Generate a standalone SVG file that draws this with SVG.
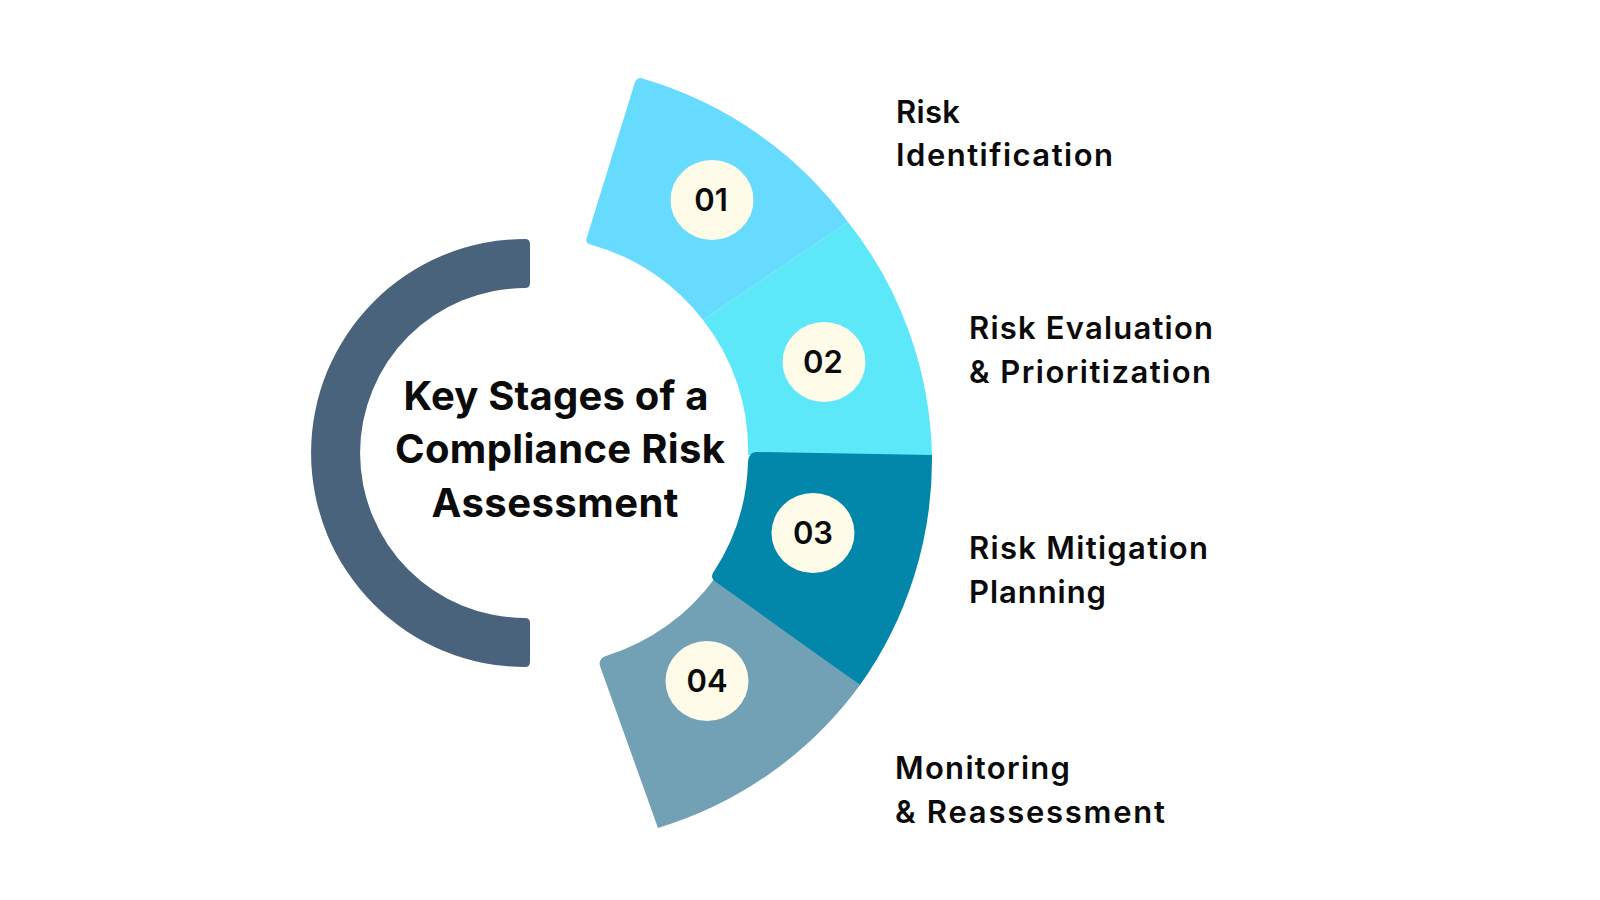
<svg xmlns="http://www.w3.org/2000/svg" width="1600" height="900" viewBox="0 0 1600 900">
<style>
.title{font-family:Inter,"Open Sans","Liberation Sans",sans-serif;font-weight:700;font-size:40px;fill:#0b0b0b;text-anchor:middle}
.label{font-family:Inter,"Open Sans","Liberation Sans",sans-serif;font-weight:600;font-size:31px;fill:#0b0b0b}
.num{font-family:Inter,"Open Sans","Liberation Sans",sans-serif;font-weight:600;font-size:31px;fill:#0b0b0b;text-anchor:middle}
.badge{fill:#fefbe9}
</style>
<rect width="1600" height="900" fill="#ffffff"/>
<g id="ring">
<path d="M530,244 Q530,239 525,239 A214,214 0 0 0 525,667 Q530,667 530,662 L530,623 Q530,618 525,618 A165,165 0 0 1 525,288 Q530,288 530,283 Z" fill="#49637c"/>
</g>
<g id="title">
<text class="title" x="556" y="410" textLength="305">Key Stages of a</text>
<text class="title" x="560" y="463" textLength="330">Compliance Risk</text>
<text class="title" x="555" y="517" textLength="247">Assessment</text>
</g>
<g id="stage1">
<path d="M592,245 Q584,244 587,237 L635,82 Q638,76 644,79 A389,389 0 0 1 848,222 L703,320 A212,212 0 0 0 592,245 Z" fill="#66dbfd"/>
<ellipse class="badge" cx="712" cy="200" rx="41.5" ry="40"/>
<text class="num" x="711" y="211">01</text>
<text class="label" x="896" y="123" textLength="64">Risk</text>
<text class="label" x="896" y="166" textLength="217">Identification</text>
</g>
<g id="stage2">
<path d="M848,222 A389,389 0 0 1 932,455 L748,455 A210,210 0 0 0 703,320 Z" fill="#5de8f9"/>
<ellipse class="badge" cx="824" cy="362" rx="41.5" ry="40"/>
<text class="num" x="823" y="373">02</text>
<text class="label" x="969" y="339" textLength="244">Risk Evaluation</text>
<text class="label" x="969" y="383" textLength="242">&amp; Prioritization</text>
</g>
<g id="stage4">
<path d="M860,685 A389,389 0 0 1 658,828 L600,666 Q598,659 606,656 A212,212 0 0 0 715,578 Z" fill="#72a0b5"/>
<ellipse class="badge" cx="707" cy="681" rx="41.5" ry="40"/>
<text class="num" x="707" y="692">04</text>
<text class="label" x="895" y="779" textLength="175">Monitoring</text>
<text class="label" x="895" y="823" textLength="270">&amp; Reassessment</text>
</g>
<g id="stage3">
<path d="M756,452 L932,455 A389,389 0 0 1 860,685 L716,582 Q710,578 713,573 A210,210 0 0 0 748,462 Q749,452 756,452 Z" fill="#0286aa"/>
<ellipse class="badge" cx="813" cy="533" rx="41.5" ry="40"/>
<text class="num" x="813" y="544">03</text>
<text class="label" x="969" y="559" textLength="239">Risk Mitigation</text>
<text class="label" x="969" y="603" textLength="137">Planning</text>
</g>
<g id="connectors"></g>
</svg>
